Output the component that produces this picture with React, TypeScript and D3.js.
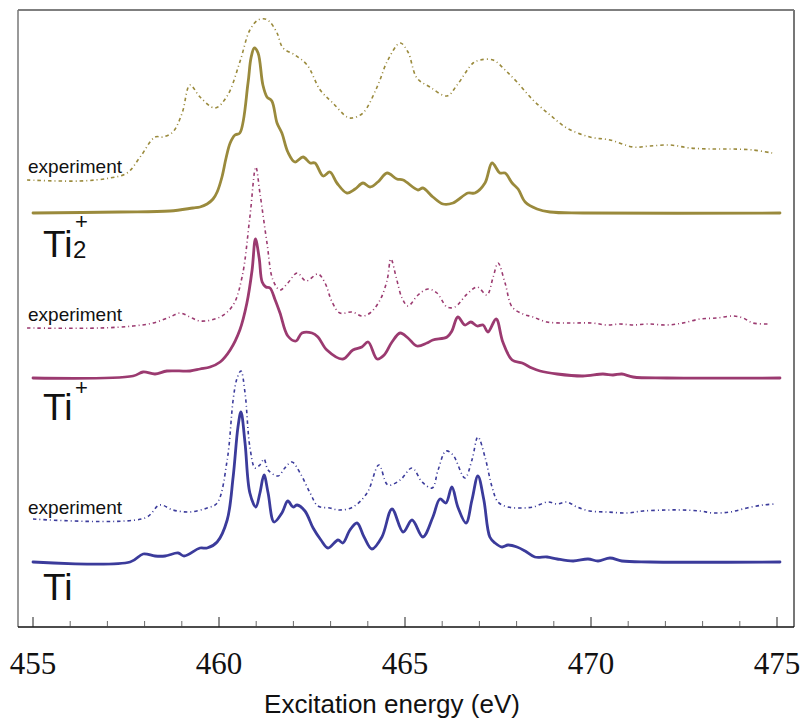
import React from "react";
import * as d3 from "d3";

// Photon energy grid limits and axis ticks (eV)
const energyDomain: [number, number] = [455, 475];
const majorTicks = [455, 460, 465, 470, 475];
const minorTicks = d3.range(455, 476, 1).filter((v) => v % 5 !== 0);

// Vertical offsets (arb. units) that stack each spectrum
const offsets = {
  ti: 65,
  tiExp: 108,
  tiPlus: 249,
  tiPlusExp: 299,
  ti2Plus: 414,
  ti2PlusExp: 447,
};

// Ti – calculated spectrum [energy eV, intensity]
const tiTheory: [number, number][] = [
  [455.0, 0], [457.61, 0], [457.96, 8], [458.28, 6], [458.55, 6], [458.9, 9], [459.06, 6],
  [459.49, 14], [459.68, 14], [459.95, 20], [460.22, 42], [460.38, 85], [460.51, 135],
  [460.59, 150], [460.7, 119], [460.83, 69], [460.99, 55], [461.1, 69], [461.21, 87],
  [461.32, 69], [461.48, 40], [461.69, 49], [461.85, 61], [461.99, 55], [462.1, 57],
  [462.31, 51], [462.53, 34], [462.74, 22], [462.93, 14], [463.2, 22], [463.33, 19],
  [463.52, 32], [463.71, 39], [463.9, 25], [464.11, 13], [464.38, 25], [464.65, 53],
  [464.95, 30], [465.19, 42], [465.48, 25], [465.75, 45], [465.94, 63], [466.1, 59],
  [466.26, 75], [466.42, 55], [466.64, 39], [466.8, 62], [466.96, 86], [467.12, 62],
  [467.28, 25], [467.42, 19], [467.61, 15], [467.77, 17], [468.01, 15], [468.23, 11],
  [468.49, 5], [468.82, 5], [469.09, 3], [469.52, 1], [469.92, 3], [470.19, 1],
  [470.51, 4], [470.83, 1], [471.59, 0], [475.08, 0],
];

// Ti – measured spectrum
const tiExperiment: [number, number][] = [
  [455.0, 0], [458.01, 1], [458.41, 14], [458.76, 9], [459.22, 7], [459.68, 11],
  [459.95, 16], [460.22, 59], [460.38, 119], [460.48, 140], [460.59, 148], [460.7, 126],
  [460.83, 72], [460.97, 51], [461.1, 54], [461.21, 60], [461.32, 49], [461.59, 43],
  [461.77, 51], [461.96, 57], [462.18, 46], [462.45, 26], [462.66, 13], [462.98, 11],
  [463.25, 9], [463.6, 12], [463.98, 26], [464.3, 54], [464.54, 34], [464.87, 39],
  [465.19, 51], [465.46, 37], [465.73, 31], [465.89, 49], [466.1, 68], [466.29, 64],
  [466.61, 41], [466.8, 59], [466.96, 82], [467.15, 62], [467.34, 32], [467.5, 17],
  [467.77, 12], [468.09, 11], [468.44, 12], [468.84, 17], [469.09, 15], [469.35, 17],
  [469.62, 12], [469.97, 8], [470.43, 7], [470.97, 6], [471.4, 8], [472.04, 9],
  [472.47, 9], [472.93, 8], [473.28, 6], [473.74, 7], [474.19, 11], [474.62, 14],
  [474.95, 15],
];

// Ti+ – calculated spectrum
const tiPlusTheory: [number, number][] = [
  [455.0, 0], [457.69, 2], [457.96, 6], [458.28, 4], [458.6, 7], [459.22, 7], [459.49, 9],
  [459.76, 11], [460.03, 16], [460.3, 28], [460.56, 48], [460.75, 75], [460.89, 108],
  [460.98, 139], [461.08, 120], [461.16, 96], [461.26, 91], [461.37, 90], [461.51, 78],
  [461.64, 65], [461.85, 42], [462.07, 37], [462.23, 45], [462.5, 45], [462.66, 41],
  [462.9, 28], [463.33, 19], [463.6, 28], [463.84, 31], [464.01, 36], [464.25, 19],
  [464.44, 23], [464.65, 36], [464.87, 45], [465.08, 40], [465.32, 32], [465.59, 35],
  [465.75, 38], [466.13, 41], [466.26, 47], [466.42, 61], [466.61, 53], [466.77, 56],
  [466.94, 52], [467.1, 53], [467.23, 46], [467.45, 59], [467.63, 36], [467.88, 18],
  [468.15, 15], [468.41, 10], [468.63, 7], [469.09, 4], [469.78, 2], [470.32, 4],
  [470.59, 3], [470.83, 4], [471.13, 1], [472.04, 0], [475.08, 0],
];

// Ti+ – measured spectrum
const tiPlusExperiment: [number, number][] = [
  [454.84, 0], [456.8, 0], [457.69, 2], [458.23, 5], [458.68, 11], [458.95, 15],
  [459.22, 11], [459.49, 7], [460.03, 11], [460.38, 23], [460.62, 51], [460.83, 111],
  [460.99, 161], [461.1, 135], [461.29, 85], [461.45, 48], [461.64, 38], [461.85, 45],
  [462.1, 55], [462.34, 47], [462.66, 54], [462.85, 45], [463.04, 26], [463.25, 15],
  [463.58, 16], [463.84, 12], [464.06, 15], [464.33, 28], [464.52, 48], [464.62, 69],
  [464.78, 48], [464.92, 30], [465.08, 22], [465.35, 33], [465.62, 39], [465.86, 35],
  [466.13, 21], [466.34, 21], [466.67, 34], [466.94, 41], [467.2, 33], [467.37, 51],
  [467.5, 65], [467.69, 45], [467.88, 21], [468.17, 14], [468.44, 11], [468.82, 6],
  [469.44, 5], [470.03, 5], [470.43, 3], [470.78, 4], [471.13, 3], [471.53, 4],
  [472.04, 3], [472.47, 5], [472.93, 9], [473.39, 10], [473.82, 12], [474.09, 10],
  [474.35, 5], [474.81, 4],
];

// Ti2+ – calculated spectrum
const ti2PlusTheory: [number, number][] = [
  [455.0, 0], [457.34, 1], [458.68, 2], [459.3, 5], [459.49, 6], [459.68, 9],
  [459.84, 14], [459.95, 21], [460.08, 36], [460.19, 55], [460.3, 70], [460.43, 78],
  [460.56, 80], [460.78, 130], [460.86, 155], [460.95, 165], [461.05, 160], [461.18, 128],
  [461.29, 116], [461.42, 112], [461.56, 90], [461.69, 80], [461.85, 61], [462.04, 51],
  [462.26, 56], [462.45, 50], [462.58, 50], [462.8, 37], [462.98, 41], [463.17, 30],
  [463.44, 20], [463.66, 24], [463.87, 30], [464.06, 26], [464.27, 31], [464.52, 40],
  [464.78, 34], [464.95, 33], [465.35, 23], [465.48, 25], [465.75, 16], [466.02, 9],
  [466.29, 10], [466.69, 20], [466.88, 20], [467.15, 30], [467.34, 50], [467.55, 40],
  [467.69, 40], [467.88, 30], [468.04, 24], [468.23, 11], [468.55, 4], [468.9, 1],
  [469.78, 0], [475.08, 0],
];

// Ti2+ – measured spectrum
const ti2PlusExperiment: [number, number][] = [
  [454.84, 0], [456.26, -1], [457.07, 2], [457.53, 7], [457.88, 23], [458.28, 43],
  [458.49, 43], [458.76, 48], [459.01, 67], [459.22, 95], [459.49, 83], [459.89, 72],
  [460.22, 84], [460.56, 118], [460.83, 150], [461.05, 160], [461.24, 161], [461.37, 158],
  [461.56, 147], [461.72, 132], [462.04, 125], [462.37, 115], [462.72, 90], [463.06, 77],
  [463.44, 63], [463.58, 62], [463.87, 67], [464.25, 93], [464.54, 120], [464.87, 137],
  [465.08, 128], [465.32, 102], [465.67, 93], [466.13, 84], [466.4, 95], [466.83, 117],
  [467.02, 120], [467.37, 120], [467.69, 110], [468.01, 98], [468.44, 80], [468.9, 65],
  [469.35, 52], [469.97, 43], [470.51, 40], [471.13, 33], [471.59, 34], [472.12, 35],
  [472.66, 32], [473.28, 31], [473.82, 31], [474.35, 30], [474.87, 27],
];

const colors = {
  ti: "#3b3b9b",
  tiPlus: "#9b3a70",
  ti2Plus: "#9a8a3c",
};

const width = 805;
const height = 721;
const frame = { left: 18, right: 794, top: 10, bottom: 627 };

export default function App() {
  const x = d3.scaleLinear().domain(energyDomain).range([33, 777]);
  const y = d3.scaleLinear().domain([0, 617]).range([frame.bottom, frame.top]);

  const makePath = (data: [number, number][], offset: number) =>
    d3
      .line<[number, number]>()
      .x((d) => x(d[0]))
      .y((d) => y(d[1] + offset))
      .curve(d3.curveCatmullRom.alpha(0.5))(data) ?? "";

  const series = [
    { data: ti2PlusExperiment, offset: offsets.ti2PlusExp, color: colors.ti2Plus, exp: true },
    { data: ti2PlusTheory, offset: offsets.ti2Plus, color: colors.ti2Plus, exp: false },
    { data: tiPlusExperiment, offset: offsets.tiPlusExp, color: colors.tiPlus, exp: true },
    { data: tiPlusTheory, offset: offsets.tiPlus, color: colors.tiPlus, exp: false },
    { data: tiExperiment, offset: offsets.tiExp, color: colors.ti, exp: true },
    { data: tiTheory, offset: offsets.ti, color: colors.ti, exp: false },
  ];

  const sans = "'Liberation Sans', Arial, sans-serif";
  const serif = "'Liberation Serif', 'Times New Roman', serif";

  return (
    <svg width={width} height={height} style={{ display: "block", position: "absolute", left: 0, top: 0 }}>
      <rect x={0} y={0} width={width} height={height} fill="#fff" />
      {/* frame */}
      <line x1={frame.left} x2={frame.right} y1={frame.top} y2={frame.top} stroke="#555" strokeWidth={1.5} />
      <line x1={frame.left} x2={frame.left} y1={frame.top} y2={frame.bottom} stroke="#777" strokeWidth={1.5} />
      <line x1={frame.right} x2={frame.right} y1={frame.top} y2={frame.bottom} stroke="#777" strokeWidth={2} />
      <line x1={frame.left} x2={frame.right} y1={frame.bottom} y2={frame.bottom} stroke="#111" strokeWidth={1.5} />

      {/* ticks */}
      {majorTicks.map((t) => (
        <line key={"M" + t} x1={x(t)} x2={x(t)} y1={frame.bottom} y2={frame.bottom - 10} stroke="#222" strokeWidth={1} />
      ))}
      {minorTicks.map((t) => (
        <line key={"m" + t} x1={x(t)} x2={x(t)} y1={frame.bottom} y2={frame.bottom - 6} stroke="#444" strokeWidth={0.8} />
      ))}
      {majorTicks.map((t) => (
        <text key={"L" + t} x={x(t)} y={674} fontFamily={serif} fontSize={31} textAnchor="middle" fill="#111">
          {t}
        </text>
      ))}
      <text x={392} y={713} fontFamily={sans} fontSize={26} textAnchor="middle" fill="#111">
        Excitation energy (eV)
      </text>

      {/* spectra */}
      {series.map((s, i) => (
        <path
          key={i}
          d={makePath(s.data, s.offset)}
          fill="none"
          stroke={s.color}
          strokeWidth={s.exp ? 1.6 : 2.8}
          strokeDasharray={s.exp ? "3.5 3 1 3" : undefined}
          strokeLinejoin="round"
          strokeLinecap={s.exp ? "butt" : "round"}
        />
      ))}

      {/* labels */}
      {[173, 321, 514].map((yy) => (
        <text key={yy} x={28} y={yy} fontFamily={sans} fontSize={19} fill="#111">
          experiment
        </text>
      ))}
      <g fontFamily={sans} fill="#111">
        <text x={43} y={257} fontSize={37}>Ti</text>
        <text x={73} y={258} fontSize={24}>2</text>
        <text x={75} y={229} fontSize={22}>+</text>

        <text x={43} y={420} fontSize={37}>Ti</text>
        <text x={75} y={395} fontSize={22}>+</text>

        <text x={43} y={600} fontSize={37}>Ti</text>
      </g>
    </svg>
  );
}
